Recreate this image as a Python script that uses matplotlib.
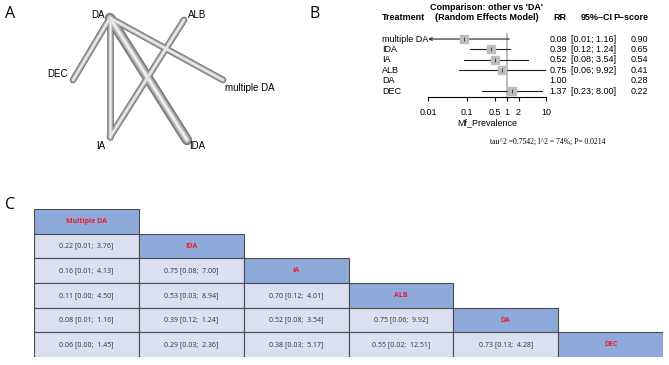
import matplotlib.pyplot as plt
from matplotlib.patches import Rectangle

plt.rcParams['font.family'] = ['Liberation Sans', 'DejaVu Sans']

# ---- panel A: network ----
nodes = ["DA", "ALB", "DEC", "multiple DA", "IA", "IDA"]
node_xy = {"DA": (110, 18), "ALB": (184, 20), "DEC": (73, 80),
           "multiple DA": (223, 80), "IA": (110, 137), "IDA": (187, 140)}
edges = [("DA", "DEC"), ("DA", "IA"), ("DA", "IDA"), ("DA", "multiple DA"), ("ALB", "IA")]
edge_weight = [1, 1, 2, 1, 1]
label_xy = {"DA": (98, 15, "center"), "ALB": (188, 15, "left"), "DEC": (68, 74, "right"),
            "multiple DA": (225, 88, "left"), "IA": (101, 146, "center"), "IDA": (197, 146, "center")}

# ---- panel B: forest ----
treatments = ["multiple DA", "IDA", "IA", "ALB", "DA", "DEC"]
rr = [0.08, 0.39, 0.52, 0.75, 1.00, 1.37]
ci_low = [0.01, 0.12, 0.08, 0.06, None, 0.23]
ci_high = [1.16, 1.24, 3.54, 9.92, None, 8.00]
pscore = [0.90, 0.65, 0.54, 0.41, 0.28, 0.22]
xticks = [0.01, 0.1, 0.5, 1, 2, 10]

# ---- panel C: league table ----
league_names = ["Multiple DA", "IDA", "IA", "ALB", "DA", "DEC"]
league = [
    [],
    ["0.22 [0.01;  3.76]"],
    ["0.16 [0.01;  4.13]", "0.75 [0.08;  7.00]"],
    ["0.11 [0.00;  4.50]", "0.53 [0.03;  8.94]", "0.70 [0.12;  4.01]"],
    ["0.08 [0.01;  1.16]", "0.39 [0.12;  1.24]", "0.52 [0.08;  3.54]", "0.75 [0.06;  9.92]"],
    ["0.06 [0.00;  1.45]", "0.29 [0.03;  2.36]", "0.38 [0.03;  5.17]", "0.55 [0.02;  12.51]",
     "0.73 [0.13;  4.28]"],
]

W, H = 669, 365
fig = plt.figure(figsize=(W / 100, H / 100), dpi=100)
ax = fig.add_axes([0, 0, 1, 1])
ax.set_xlim(0, W)
ax.set_ylim(H, 0)
ax.axis("off")

def px_axes(x0, y0, x1, y1):
    return fig.add_axes([x0 / W, 1 - y1 / H, (x1 - x0) / W, (y1 - y0) / H])

# panel letters
for letter, (lx, ly) in {"A": (10, 14), "B": (315, 14), "C": (10, 205)}.items():
    ax.text(lx, ly, letter, fontsize=11.5, family="Open Sans", ha="center", va="center")

# network edges as shaded tubes
for (a, b), w in zip(edges, edge_weight):
    xs = [node_xy[a][0], node_xy[b][0]]
    ys = [node_xy[a][1], node_xy[b][1]]
    lw = 4.8 * (1 + 0.55 * (w - 1))
    ax.plot(xs, ys, color="#777777", lw=lw, solid_capstyle="round", zorder=2)
    ax.plot(xs, ys, color="#a8a8a8", lw=lw * 0.7, solid_capstyle="round", zorder=3)
    ax.plot(xs, ys, color="#d8d8d8", lw=lw * 0.4, solid_capstyle="round", zorder=4)
    ax.plot(xs, ys, color="#f6f6f6", lw=lw * 0.15, solid_capstyle="round", zorder=4)
for n in nodes:
    lx, ly, ha = label_xy[n]
    ax.text(lx, ly, n, fontsize=7, ha=ha, va="center", zorder=5)

# forest plot
fx = px_axes(428, 33, 546, 97)
nrow = len(treatments)
fx.set_xscale("log")
fx.set_xlim(0.01, 10)
fx.set_ylim(nrow - 1 + 0.58, -0.58)
fx.axvline(1, color="#b0b0b0", lw=1.2, zorder=1)
for i in range(nrow):
    if rr[i] == 1.0 and ci_low[i] is None:
        continue
    if ci_low[i] <= 0.01:
        fx.annotate("", xy=(0.0101, i), xytext=(ci_high[i], i),
                    arrowprops=dict(arrowstyle="->", lw=0.8, color="#222222",
                                    shrinkA=0, shrinkB=0, mutation_scale=5))
    else:
        fx.plot([ci_low[i], ci_high[i]], [i, i], color="#222222", lw=0.8, zorder=2)
    fx.plot(rr[i], i, marker="s", ms=5.5, color="#bdbdbd", mec="#bdbdbd", zorder=3)
    fx.plot(rr[i], i, marker="|", ms=2.5, color="#333333", mew=0.6, zorder=4)
for s in ["top", "right", "left"]:
    fx.spines[s].set_visible(False)
fx.spines["bottom"].set_linewidth(0.8)
fx.set_yticks([])
fx.set_xticks(xticks)
fx.set_xticklabels([f"{t:g}" for t in xticks], fontsize=6.5)
fx.minorticks_off()
fx.tick_params(axis="x", length=3, width=0.8, pad=5)
fx.patch.set_alpha(0)

row_y = [39 + 10.4 * i for i in range(nrow)]
ax.text(382, 18, "Treatment", fontsize=6.5, fontweight="bold", va="center")
ax.text(487, 7, "Comparison: other vs 'DA'", fontsize=6.5, fontweight="bold", ha="center", va="center")
ax.text(487, 18, "(Random Effects Model)", fontsize=6.5, fontweight="bold", ha="center", va="center")
ax.text(566, 18, "RR", fontsize=6.5, fontweight="bold", ha="right", va="center")
ax.text(613, 18, "95%\u2013CI", fontsize=6.5, fontweight="bold", ha="right", va="center")
ax.text(648, 18, "P\u2013score", fontsize=6.5, fontweight="bold", ha="right", va="center")
for i, y in enumerate(row_y):
    ax.text(382, y, treatments[i], fontsize=6.5, va="center")
    ax.text(567, y, f"{rr[i]:.2f}", fontsize=6.5, ha="right", va="center")
    if ci_low[i] is not None:
        ax.text(571, y, f"[{ci_low[i]:.2f}; {ci_high[i]:.2f}]", fontsize=6.5, va="center")
    ax.text(648, y, f"{pscore[i]:.2f}", fontsize=6.5, ha="right", va="center")
ax.text(487, 123, "Mf_Prevalence", fontsize=6.5, ha="center", va="center")
ax.text(548, 142, "tau^2 =0.7542; I^2 = 74%; P= 0.0214", fontsize=5.5,
        family="Liberation Serif", ha="center", va="center")

# league table
tx = px_axes(34, 209, 663, 357)
n = len(league_names)
tx.set_xlim(0, n)
tx.set_ylim(n, 0)
tx.axis("off")
for r in range(n):
    for c in range(r):
        tx.add_patch(Rectangle((c, r), 1, 1, facecolor="#dae0f0", edgecolor="#4a4a4a", lw=0.8))
        tx.text(c + 0.5, r + 0.5, league[r][c], fontsize=5, family="Open Sans",
                color="#333333", ha="center", va="center")
    tx.add_patch(Rectangle((r, r), 1, 1, facecolor="#8eaadb", edgecolor="#4a4a4a", lw=0.8))
    tx.text(r + 0.5, r + 0.5, league_names[r], fontsize=5, family="Open Sans",
            fontweight="bold", color="#e8202a", ha="center", va="center")

fig.savefig("out.png", dpi=100)
